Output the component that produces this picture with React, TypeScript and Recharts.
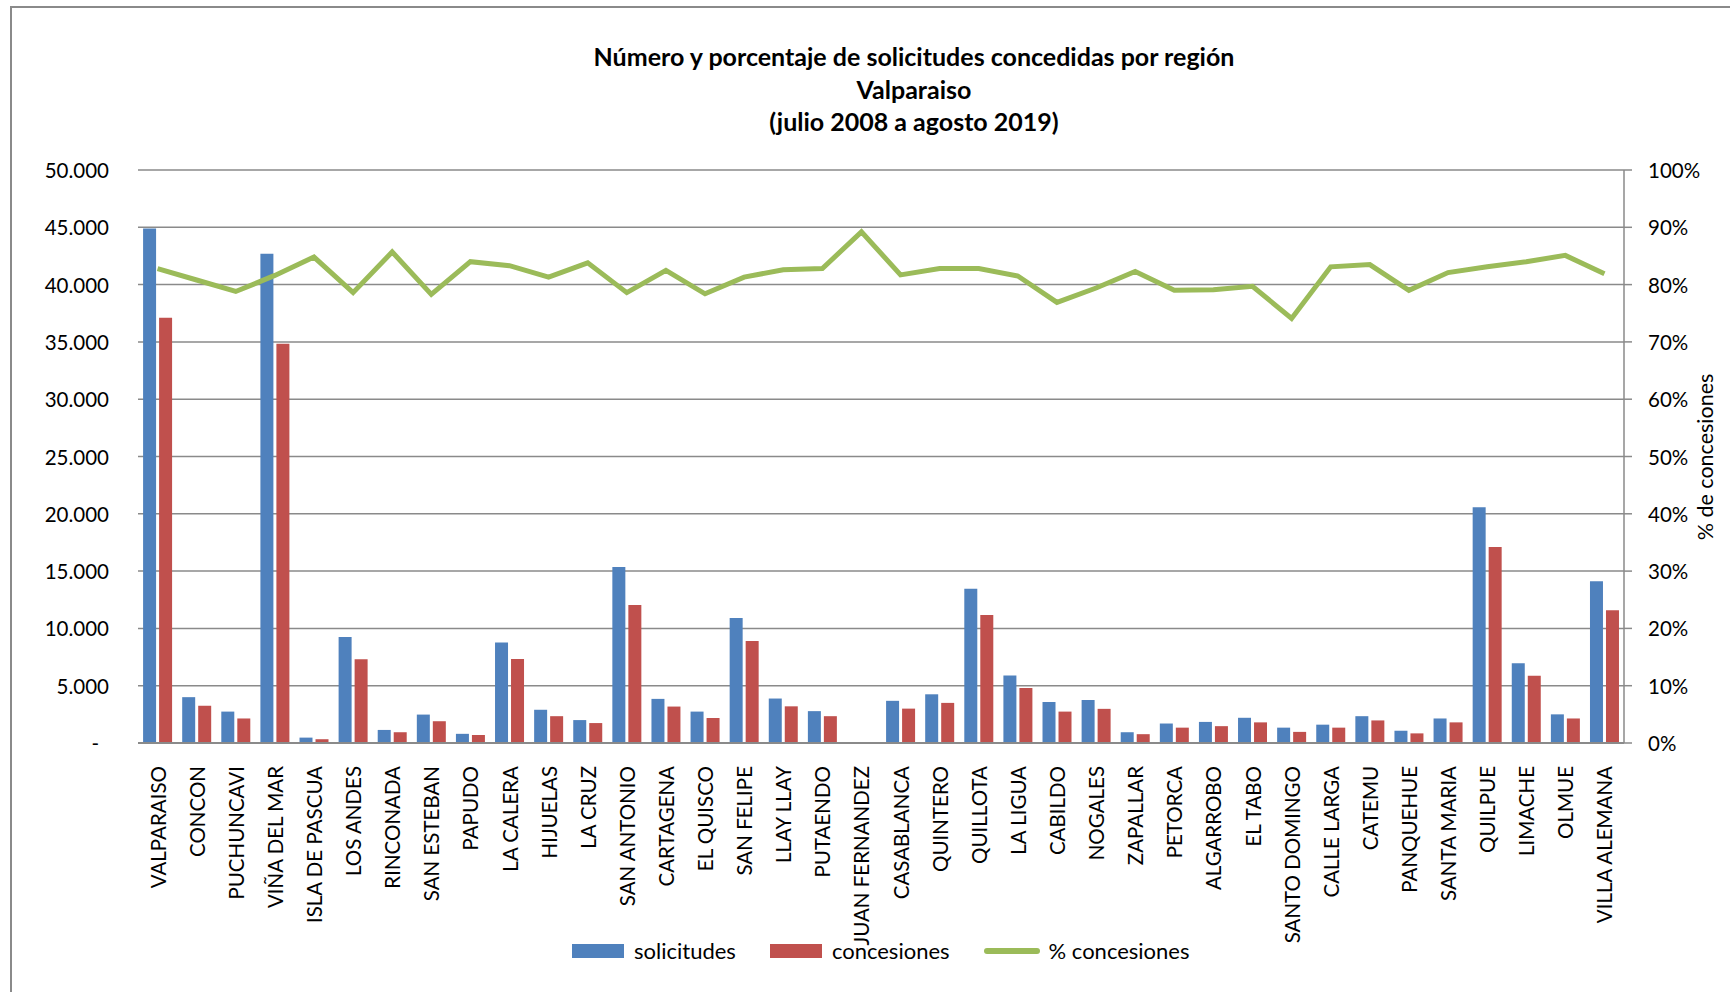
import { Bar, CartesianGrid, ComposedChart, Legend, Line, XAxis, YAxis } from 'recharts';

const REGIONS = [
  'VALPARAISO', 'CONCON', 'PUCHUNCAVI', 'VIÑA DEL MAR', 'ISLA DE PASCUA', 'LOS ANDES', 'RINCONADA',
  'SAN ESTEBAN', 'PAPUDO', 'LA CALERA', 'HIJUELAS', 'LA CRUZ', 'SAN ANTONIO', 'CARTAGENA', 'EL QUISCO',
  'SAN FELIPE', 'LLAY LLAY', 'PUTAENDO', 'JUAN FERNANDEZ', 'CASABLANCA', 'QUINTERO', 'QUILLOTA',
  'LA LIGUA', 'CABILDO', 'NOGALES', 'ZAPALLAR', 'PETORCA', 'ALGARROBO', 'EL TABO', 'SANTO DOMINGO',
  'CALLE LARGA', 'CATEMU', 'PANQUEHUE', 'SANTA MARIA', 'QUILPUE', 'LIMACHE', 'OLMUE', 'VILLA ALEMANA',
];

const SOLICITUDES = [
  44900, 4000, 2740, 42700, 470, 9240, 1140, 2480, 800, 8770, 2900, 2000, 15360, 3850, 2740, 10900,
  3880, 2780, 40, 3680, 4250, 13450, 5900, 3580, 3750, 940, 1700, 1840, 2200, 1340, 1600, 2340, 1070,
  2140, 20580, 6960, 2500, 14120,
];

const CONCESIONES = [
  37100, 3250, 2140, 34840, 330, 7300, 940, 1900, 700, 7330, 2340, 1740, 12050, 3180, 2180, 8900,
  3200, 2340, 35, 3000, 3500, 11180, 4790, 2740, 2980, 770, 1340, 1470, 1800, 970, 1340, 1970, 840,
  1800, 17100, 5860, 2140, 11580,
];

// % concesiones
const PCT_CONCESIONES = [
  82.8, 80.8, 78.8, 81.6, 84.8, 78.6, 85.7, 78.3, 84.0, 83.3, 81.3, 83.8, 78.6, 82.5, 78.4, 81.3,
  82.6, 82.8, 89.2, 81.7, 82.8, 82.8, 81.5, 76.9, 79.4, 82.3, 79.0, 79.1, 79.7, 74.1, 83.1, 83.5,
  79.0, 82.1, 83.1, 84.0, 85.1, 81.9,
];

const LEFT_TICKS = [0, 5000, 10000, 15000, 20000, 25000, 30000, 35000, 40000, 45000, 50000];
const RIGHT_TICKS = [0, 10, 20, 30, 40, 50, 60, 70, 80, 90, 100];

const TITLE_LINES = ['Número y porcentaje de solicitudes concedidas por región', 'Valparaiso', '(julio 2008 a agosto 2019)'];
const LEGEND_ORDER = ['solicitudes', 'concesiones', '% concesiones'];

const BLUE = '#4F81BD';
const RED = '#C0504D';
const GREEN = '#9BBB59';
const GRID = '#8a8a8a';
const FONT = 'Lato, "Noto Sans", sans-serif';
const FS = 20.5;

const rows = REGIONS.map((region, i) => ({
  region,
  solicitudes: SOLICITUDES[i],
  concesiones: CONCESIONES[i],
  pct: PCT_CONCESIONES[i],
}));

const thousands = (v: number) => String(v).replace(/\B(?=(\d{3})+(?!\d))/g, '.');

function LeftTick({ x, y, payload }: any) {
  const v = payload.value as number;
  return (
    <text x={v === 0 ? x - 10 : x} y={y} textAnchor="end" dominantBaseline="central" fontSize={FS} fill="#000" fontFamily={FONT}>
      {v === 0 ? '-' : thousands(v)}
    </text>
  );
}

function RightTick({ x, y, payload }: any) {
  return (
    <text x={x} y={y} textAnchor="start" dominantBaseline="central" fontSize={FS} fill="#000" fontFamily={FONT}>
      {payload.value}%
    </text>
  );
}

function CategoryTick({ x, y, payload }: any) {
  return (
    <text
      transform={`translate(${x},${y}) rotate(-90)`}
      textAnchor="end"
      dominantBaseline="central"
      fontSize={FS}
      fill="#000"
      fontFamily={FONT}
    >
      {payload.value}
    </text>
  );
}

function LegendContent({ payload }: any) {
  const items = [...(payload || [])].sort(
    (a: any, b: any) => LEGEND_ORDER.indexOf(a.value) - LEGEND_ORDER.indexOf(b.value),
  );
  return (
    <div style={{ display: 'flex', alignItems: 'center', fontFamily: FONT, fontSize: 22, color: '#000' }}>
      {items.map((p: any) => (
        <div key={p.value} style={{ display: 'flex', alignItems: 'center', marginRight: 34 }}>
          {p.type === 'line' ? (
            <span style={{ display: 'inline-block', width: 56, height: 6, borderRadius: 3, background: p.color, marginRight: 9 }} />
          ) : (
            <span style={{ display: 'inline-block', width: 52, height: 14, background: p.color, marginRight: 10 }} />
          )}
          <span>{p.value}</span>
        </div>
      ))}
    </div>
  );
}

export default function App() {
  return (
    <div style={{ position: 'absolute', left: 0, top: 0, width: 1730, height: 992, background: '#fff', overflow: 'hidden' }}>
      <div
        style={{
          position: 'absolute', left: 10, top: 6, width: 2000, height: 2000,
          borderLeft: `2px solid ${GRID}`, borderTop: `2px solid ${GRID}`,
        }}
      />
      <div
        style={{
          position: 'absolute', left: 0, top: 40, width: 1828, textAlign: 'center',
          fontFamily: FONT, fontWeight: 700, fontSize: 25, lineHeight: '32.5px', color: '#000',
        }}
      >
        {TITLE_LINES.map((t) => (
          <div key={t}>{t}</div>
        ))}
      </div>
      <ComposedChart
        width={1730}
        height={992}
        data={rows}
        margin={{ top: 170, right: 0, bottom: 0, left: 0 }}
        barCategoryGap="13%"
        barGap={3}
        style={{ position: 'absolute', left: 0, top: 0 }}
      >
        <CartesianGrid yAxisId="left" vertical={false} stroke={GRID} strokeWidth={1.5} />
        <XAxis
          dataKey="region"
          interval={0}
          height={249}
          tickLine={false}
          tickSize={0}
          tickMargin={23}
          axisLine={{ stroke: GRID, strokeWidth: 2 }}
          tick={<CategoryTick />}
        />
        <YAxis
          yAxisId="left"
          width={138}
          domain={[0, 50000]}
          ticks={LEFT_TICKS}
          axisLine={false}
          tickLine={false}
          tickSize={0}
          tickMargin={29}
          tick={<LeftTick />}
        />
        <YAxis
          yAxisId="right"
          orientation="right"
          width={106}
          domain={[0, 100]}
          ticks={RIGHT_TICKS}
          axisLine={{ stroke: GRID, strokeWidth: 1.5 }}
          tickLine={{ stroke: GRID, strokeWidth: 1.5 }}
          tickSize={8}
          tickMargin={16}
          tick={<RightTick />}
          label={{
            content: () => (
              <text
                x={1705}
                y={457}
                transform="rotate(-90 1705 457)"
                textAnchor="middle"
                dominantBaseline="central"
                fontSize={21.5}
                fontFamily={FONT}
                fill="#000"
              >
                % de concesiones
              </text>
            ),
          }}
        />
        <Bar yAxisId="left" dataKey="solicitudes" name="solicitudes" fill={BLUE} isAnimationActive={false} />
        <Bar yAxisId="left" dataKey="concesiones" name="concesiones" fill={RED} isAnimationActive={false} />
        <Line
          yAxisId="right"
          type="linear"
          dataKey="pct"
          name="% concesiones"
          stroke={GREEN}
          strokeWidth={5}
          dot={false}
          activeDot={false}
          legendType="line"
          isAnimationActive={false}
        />
        <Legend
          layout="horizontal"
          verticalAlign="middle"
          align="center"
          content={<LegendContent />}
          wrapperStyle={{ left: 572, top: 937, width: 'auto', height: 28 }}
        />
      </ComposedChart>
    </div>
  );
}
